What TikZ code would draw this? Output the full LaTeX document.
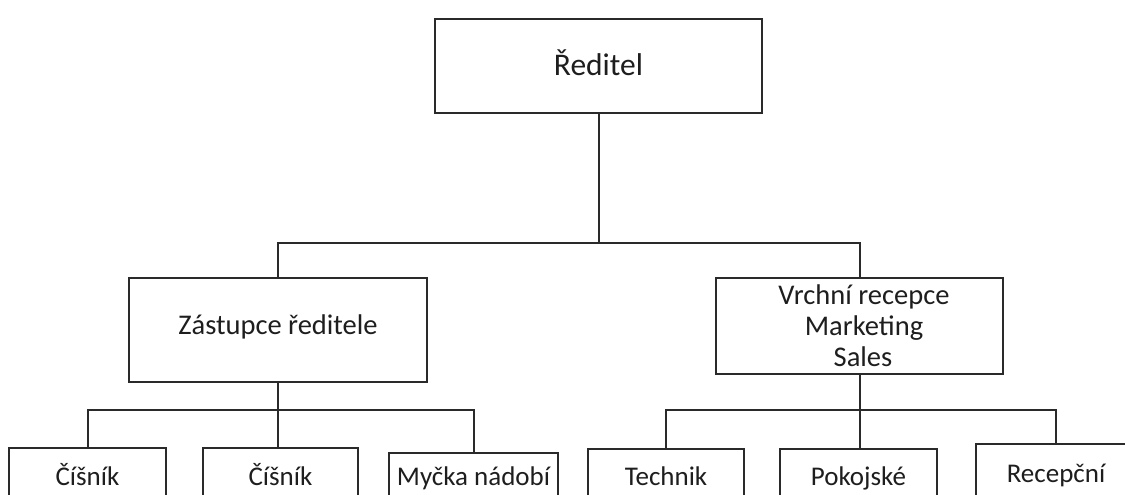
\documentclass[tikz,border=0pt]{standalone}
\usepackage{fontspec}
\setmainfont{Carlito}
\definecolor{linecol}{HTML}{2A2A2A}
\definecolor{textcol}{HTML}{1E1E1E}
\tikzset{
  orgbox/.style={draw=linecol, line width=2pt, rectangle, inner sep=0pt,
    align=center, text=textcol, fill=white},
  conn/.style={draw=linecol, line width=2pt},
  bigtext/.style={font=\fontsize{31.5}{35}\selectfont, text height=24pt, text depth=6pt},
  midtext/.style={font=\fontsize{28.5}{31}\selectfont},
  smalltext/.style={font=\fontsize{27}{30}\selectfont, text height=19pt, text depth=6pt},
}
\begin{document}
\begin{tikzpicture}[x=1pt, y=-1pt]
  \clip (0,0) rectangle (1125,495);
  \fill[white] (0,0) rectangle (1125,495);

  % top level
  \node[orgbox, bigtext, minimum width=327pt, minimum height=94pt] (dir) at (598.5,66) {Ředitel};

  % second level
  \node[orgbox, midtext, text height=16pt, text depth=8pt,
        minimum width=298pt, minimum height=104pt] (zast) at (278,330) {Zástupce ředitele};
  \node[orgbox, midtext, minimum width=287pt, minimum height=96pt] (vrch) at (859.5,326)
       {\hspace*{9pt}Vrchní recepce\\\hspace*{9pt}Marketing\\\hspace*{7pt}Sales};

  % third level (boxes run past the lower edge)
  \node[orgbox, smalltext, minimum width=157pt, minimum height=62pt] (c1) at (87.5,479) {Číšník};
  \node[orgbox, smalltext, minimum width=155pt, minimum height=62pt] (c2) at (280.5,479) {Číšník};
  \node[orgbox, smalltext, minimum width=169pt, minimum height=53pt] (my) at (473.5,479) {Myčka nádobí};
  \node[orgbox, smalltext, minimum width=156pt, minimum height=60pt] (tech) at (666,479) {Technik};
  \node[orgbox, smalltext, minimum width=157pt, minimum height=60pt] (pok) at (858.5,479) {Pokojské};
  \node[orgbox, smalltext, minimum width=160pt, minimum height=63pt] (rec) at (1056,475.5) {Recepční};

  % bus lines
  \coordinate (topbus) at (0,243);
  \coordinate (lbus) at (0,410);
  \coordinate (rbus) at (0,410);

  % connectors
  \draw[conn] (dir.south) -- (dir.south |- topbus);
  \draw[conn] (zast.north) -- (zast.north |- topbus) -- (vrch.north |- topbus) -- (vrch.north);

  \draw[conn] (zast.south) -- (zast.south |- c2.north);
  \draw[conn] (c1.north) -- (c1.north |- lbus) -- (my.north |- lbus) -- (my.north);

  \draw[conn] (vrch.south) -- (vrch.south |- pok.north);
  \draw[conn] (tech.north) -- (tech.north |- rbus) -- (rec.north |- rbus) -- (rec.north);
\end{tikzpicture}
\end{document}
